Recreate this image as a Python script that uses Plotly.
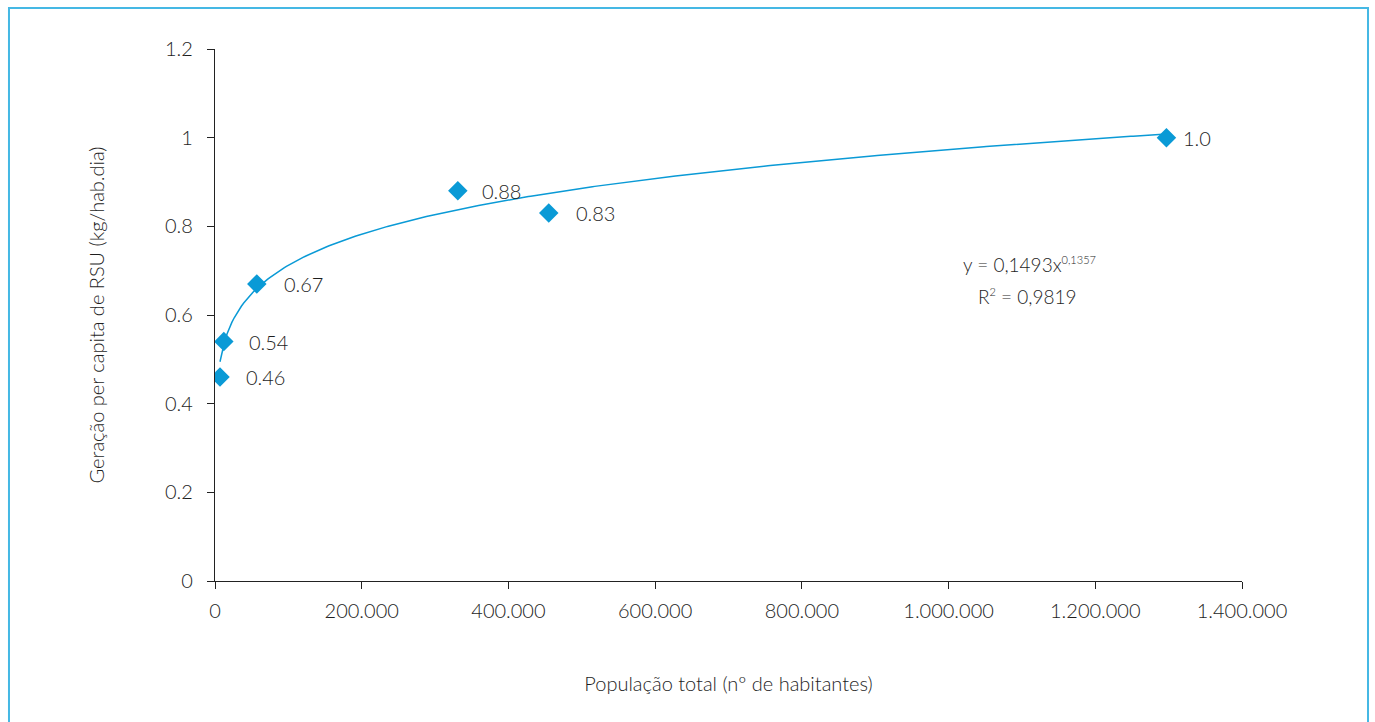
import numpy as np
import plotly.graph_objects as go

# Population (inhabitants) and per-capita waste generation (kg/hab.dia)
populacao = [6800, 12000, 57000, 331000, 455000, 1297000]
geracao = [0.46, 0.54, 0.67, 0.88, 0.83, 1.0]
rotulos = ["0.46", "0.54", "0.67", "0.88", "0.83", "1.0"]

# Power-law fit reported on the chart
coef_a = 0.1493
coef_b = 0.1357
r2_texto = "0,9819"

x_ticks = [0, 200000, 400000, 600000, 800000, 1000000, 1200000, 1400000]
x_ticktext = ["0", "200.000", "400.000", "600.000", "800.000",
              "1.000.000", "1.200.000", "1.400.000"]
y_ticks = [0, 0.2, 0.4, 0.6, 0.8, 1.0, 1.2]
y_ticktext = ["0", "0.2", "0.4", "0.6", "0.8", "1", "1.2"]

AZUL = "#0a9ad6"
MOLDURA = "#45b8e4"
TEXTO = "#1e1e1e"
FONTE = "Lato, Inter, sans-serif"


def fonte(tam):
    return dict(size=tam, color=TEXTO, family=FONTE, weight=300)


# Trend curve spanning the observed population range
x_fit = np.linspace(min(populacao), max(populacao), 400)
y_fit = coef_a * x_fit ** coef_b

fig = go.Figure()
fig.add_trace(go.Scatter(
    x=x_fit, y=y_fit, mode="lines",
    line=dict(color=AZUL, width=1.5),
    hoverinfo="skip", showlegend=False,
))
fig.add_trace(go.Scatter(
    x=populacao, y=geracao, mode="markers",
    marker=dict(symbol="diamond", size=15, color=AZUL),
    showlegend=False,
))

# Value labels to the right of each point
deslocamentos = [24, 23, 25, 22, 25, 15]
for xv, yv, txt, dx in zip(populacao, geracao, rotulos, deslocamentos):
    fig.add_annotation(
        x=xv, y=yv, text=txt, showarrow=False,
        xanchor="left", yanchor="middle", xshift=dx,
        font=fonte(20),
    )

# Fitted equation and R²
sup_estilo = "font-size:11px"
fig.add_annotation(
    x=1110000, y=0.713, showarrow=False, xanchor="center", yanchor="middle",
    text=(f"y = {str(coef_a).replace('.', ',')}x"
          f"<sup><span style='{sup_estilo}'>{str(coef_b).replace('.', ',')}</span></sup>"),
    font=fonte(19),
)
fig.add_annotation(
    x=1107000, y=0.641, showarrow=False, xanchor="center", yanchor="middle",
    text=f"R<sup><span style='{sup_estilo}'>2</span></sup> = {r2_texto}",
    font=fonte(19),
)

# Light blue frame around the figure
fig.add_shape(
    type="rect", xref="paper", yref="paper",
    x0=-0.2006, x1=1.1227, y0=-0.30, y1=1.0771,
    line=dict(color=MOLDURA, width=2), fillcolor="rgba(0,0,0,0)",
    layer="below",
)

fig.update_layout(
    width=1375, height=722,
    margin=dict(l=215, r=133, t=49, b=141),
    paper_bgcolor="white", plot_bgcolor="white",
    font=fonte(20),
    xaxis=dict(
        range=[0, 1400000], tickvals=x_ticks, ticktext=x_ticktext,
        showgrid=False, zeroline=False, showline=True,
        linecolor="#222222", linewidth=1.3,
        ticks="outside", ticklen=7, tickcolor="#222222", tickwidth=1.3,
        ticklabelstandoff=5,
        tickfont=fonte(20),
        title=dict(text="População total (nº de habitantes)", standoff=55,
                   font=fonte(20)),
    ),
    yaxis=dict(
        range=[0, 1.2], tickvals=y_ticks, ticktext=y_ticktext,
        showgrid=False, zeroline=False, showline=True,
        linecolor="#222222", linewidth=1.3,
        ticks="outside", ticklen=7, tickcolor="#222222", tickwidth=1.3,
        ticklabelstandoff=10,
        tickfont=fonte(20),
        title=dict(text="Geração per capita de RSU (kg/hab.dia)", standoff=54,
                   font=fonte(20)),
    ),
)

fig.write_html("out.html")
